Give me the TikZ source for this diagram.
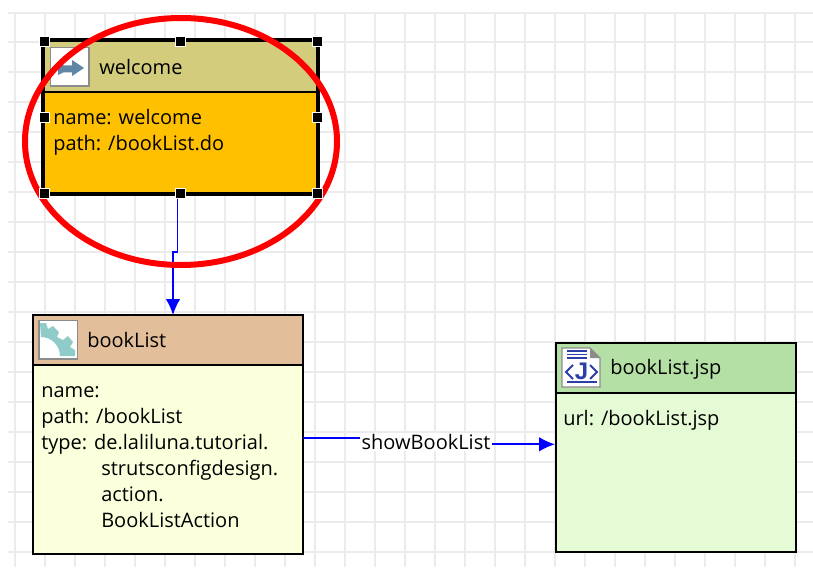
\documentclass[tikz,border=0pt]{standalone}
\usepackage{fontspec}
\setmainfont{Open Sans}
\newfontfamily\iconfont{Liberation Sans}
\usetikzlibrary{arrows.meta}
\def\pxu{0.75pt}
\definecolor{gridgray}{HTML}{EBEBEB}
\definecolor{iconedge}{HTML}{8C8C8C}
\definecolor{iconblue}{HTML}{2A3FA8}
\tikzset{
	headbox/.style={draw=black, line width=1.5pt, rectangle, inner sep=0pt},
	bodybox/.style={draw=black, line width=1.5pt, rectangle, inner sep=0pt},
	boxtext/.style={anchor=north west, inner sep=0pt, align=left, font=\fontsize{15}{19.5}\selectfont},
	headtext/.style={anchor=west, inner sep=0pt, font=\fontsize{15}{19.5}\selectfont},
	grip/.style={fill=black, draw=white, line width=0.5pt, rectangle, minimum size=10*\pxu, inner sep=0pt},
	selframe/.style={draw=black, line width=2.6pt},
	link/.style={draw=blue, line width=1.3pt},
	tip/.style={-{Latex[length=12pt, width=11pt]}},
}
\begin{document}
\begin{tikzpicture}[x=\pxu, y=-\pxu]
				\useasboundingbox (0, 0) rectangle (813, 567);
				\fill[white] (0, 0) rectangle (813, 567);

				% grid
				\foreach \x in {15, 45, ..., 795} \draw[gridgray, line width=1.5pt] (\x, 13) -- (\x, 567);
				\foreach \y in {13, 42, 72, 102, 132, 162, 192, 222, 252, 282, 312, 342, 372, 402, 432, 462, 492, 522, 552} \draw[gridgray, line width=1.5pt] (8, \y) -- (813, \y);

				% welcome
				\node[bodybox, fill={rgb,255:red,255;green,192;blue,0}, minimum width=273*\pxu, minimum height=101*\pxu] (welcomebody) at (180.5, 142.5) {};
				\node[headbox, fill={rgb,255:red,211;green,204;blue,125}, minimum width=273*\pxu, minimum height=51*\pxu] (welcomehead) at (180.5, 66.5) {};
				\draw[selframe] (welcomehead.north west) rectangle (welcomebody.south east);
				\node[headtext] (welcometitle) at (99, 67) {welcome};
				\node[boxtext] (welcometext) at (53, 109) {name: welcome\\path: /bookList.do};
				\draw[iconedge, fill=white, line width=1pt] (50.5, 47.5) rectangle (89, 86);
				\fill[fill={rgb,255:red,95;green,135;blue,165}] (58, 64) -- (63, 64) -- (63, 65.5) -- (72, 65.5) -- (72, 60) -- (84, 68) -- (72, 76) -- (72, 72.5) -- (63, 72.5) -- (58, 75) -- cycle;

				% bookList
				\node[bodybox, fill={rgb,255:red,250;green,255;blue,220}, minimum width=270*\pxu, minimum height=190*\pxu] (booklistbody) at (168, 459) {};
				\node[headbox, fill={rgb,255:red,227;green,190;blue,154}, minimum width=270*\pxu, minimum height=50*\pxu] (booklisthead) at (168, 339.5) {};
				\node[headtext] (booklisttitle) at (87, 340) {bookList};
				\node[boxtext] (booklisttext) at (41, 386.5) {name:\\path: /bookList\\type: de.laliluna.tutorial.\\\hspace*{45pt}strutsconfigdesign.\\\hspace*{45pt}action.\\\hspace*{45pt}BookListAction};
				\draw[iconedge, fill=white, line width=1pt] (39, 320.5) rectangle (77.5, 359);
				\fill[fill={rgb,255:red,143;green,203;blue,200}] (40, 323) -- (46, 323) -- (48, 329) -- (53, 326) -- (59, 332) -- (57, 337) -- (63, 340) -- (68, 336) -- (73, 342) -- (70, 347) -- (75, 350) -- (75, 356) -- (60, 356) arc (0:-90:19) -- cycle;

				% bookList.jsp
				\node[bodybox, fill={rgb,255:red,229;green,251;blue,213}, minimum width=240*\pxu, minimum height=160*\pxu] (jspbody) at (676, 472) {};
				\node[headbox, fill={rgb,255:red,181;green,224;blue,165}, minimum width=240*\pxu, minimum height=50*\pxu] (jsphead) at (676, 367.5) {};
				\node[headtext] (jsptitle) at (610, 369.5) {bookList.jsp};
				\node[boxtext] (jsptext) at (563, 410.5) {url: /bookList.jsp};
				\draw[iconedge, fill=white, line width=1pt] (562, 348) -- (590, 348) -- (600, 358) -- (600, 387) -- (562, 387) -- cycle;
				\fill[iconedge] (590, 348) -- (600, 358) -- (590, 358) -- cycle;
				\foreach \y in {351, 354.5, 358} \draw[iconblue, line width=0.8pt] (567, \y) -- (587, \y);
				\draw[iconblue, line width=0.8pt] (567, 382) -- (597, 382);
				\draw[iconblue, line width=1.5pt] (573, 365) -- (566, 372) -- (573, 379);
				\draw[iconblue, line width=1.5pt] (590, 365) -- (597, 372) -- (590, 379);
				\node[inner sep=0pt, text=iconblue, font=\iconfont\bfseries\fontsize{18}{18}\selectfont] (jspmark) at (581.5, 371.5) {J};

				% connectors
				\coordinate (welcomeout) at (177.5, 199);
				\coordinate (jogtop) at (177.5, 252);
				\coordinate (jogbot) at (173, 252);
				\coordinate (booklistin) at (173, 315);
				\draw[link, tip] (welcomeout) -- (jogtop) -- (jogbot) -- (booklistin);

				\node[fill=white, inner sep=1pt, font=\fontsize{15}{19.5}\selectfont] (showlabel) at (426, 442) {showBookList};
				\coordinate (showout) at (303, 438);
				\coordinate (jspin) at (555, 444.3);
				\draw[link] (showout) -- (showlabel.west |- showout);
				\draw[link, tip] (showlabel.east |- jspin) -- (jspin);

				% ring
				\draw[red, line width=4.5pt] (181, 141.5) ellipse (156 and 123.5);

				% grips
				\foreach \n/\x/\y in {a/44/41, b/180.5/41, c/317/41, d/44/117, e/317/117, f/44/193, g/180.5/193, h/317/193}
					\node[grip] (grip\n) at (\x, \y) {};
			\end{tikzpicture}
\end{document}
